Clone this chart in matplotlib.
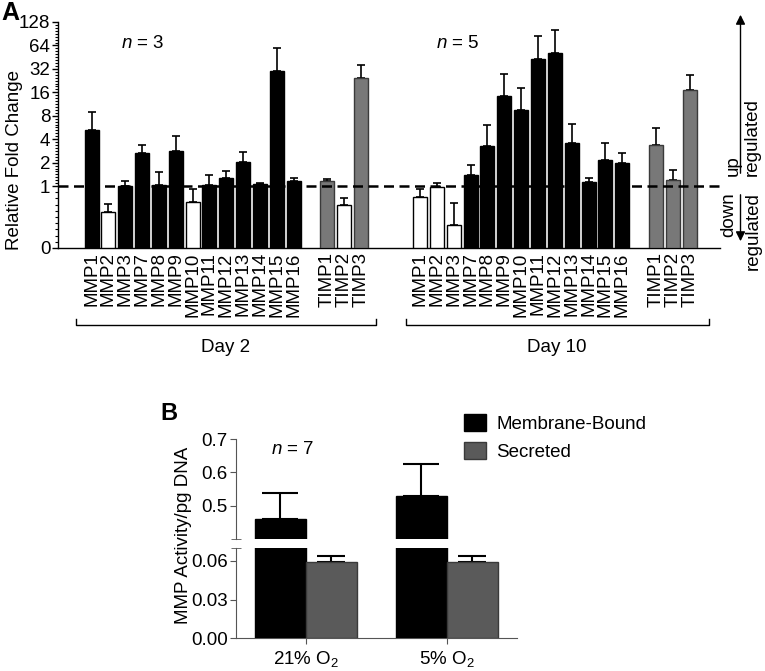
import numpy as np
import matplotlib
matplotlib.use("Agg")
import matplotlib.pyplot as plt
import matplotlib.transforms as mtransforms
from matplotlib.patches import Patch

plt.rcParams['font.family'] = ['Liberation Sans', 'DejaVu Sans']
plt.rcParams['mathtext.fontset'] = 'custom'
plt.rcParams['mathtext.rm'] = 'Liberation Sans'
plt.rcParams['mathtext.it'] = 'Liberation Sans:italic'
plt.rcParams['font.size'] = 13.5

# ---------------- Data: Panel A ----------------
mmp_genes = ["MMP1", "MMP2", "MMP3", "MMP7", "MMP8", "MMP9", "MMP10",
             "MMP11", "MMP12", "MMP13", "MMP14", "MMP15", "MMP16"]
timp_genes = ["TIMP1", "TIMP2", "TIMP3"]

day2_mmp = [5.2, 0.58, 1.0, 2.64, 1.03, 2.83, 0.75, 1.03, 1.28, 2.02, 1.05, 30.4, 1.16]
day2_mmp_sem = [3.7, 0.13, 0.16, 0.78, 0.5, 1.59, 0.2, 0.36, 0.28, 0.73, 0.03, 28.6, 0.11]
day2_timp = [1.16, 0.70, 24.5]
day2_timp_sem = [0.08, 0.105, 11.9]

day10_mmp = [0.83, 0.98, 0.37, 1.40, 3.25, 14.5, 9.47, 43.1, 51.6, 3.56, 1.12, 2.14, 1.98]
day10_mmp_sem = [0.13, 0.13, 0.36, 0.45, 2.82, 12.9, 8.93, 40.5, 48.4, 2.69, 0.16, 1.45, 0.72]
day10_timp = [3.42, 1.21, 17.0]
day10_timp_sem = [2.08, 0.42, 9.5]

yticks_A = [0, 1, 2, 4, 8, 16, 32, 64, 128]
day_labels = ["Day 2", "Day 10"]
n_labels = ["3", "5"]

# ---------------- Data: Panel B ----------------
conditions = ["21% O$_2$", "5% O$_2$"]
membrane = [0.459, 0.528]
membrane_sem = [0.078, 0.097]
secreted = [0.0595, 0.059]
secreted_sem = [0.0044, 0.005]
series_B = ["Membrane-Bound", "Secreted"]

W, H = 765, 671
fig = plt.figure(figsize=(W / 100, H / 100), dpi=100)


def fx(px):
    return px / W


def fy(py):
    return 1 - py / H


# ---------------- Panel A ----------------
K = 23.33 / 61.6


def fwd(y):
    y = np.asarray(y, dtype=float)
    return np.where(y <= 1, y, 1 + K * np.log2(np.maximum(y, 1)))


def inv(t):
    t = np.asarray(t, dtype=float)
    return np.where(t <= 1, t, 2 ** ((np.maximum(t, 1) - 1) / K))


axA = fig.add_axes([fx(58), fy(248), (720 - 58) / W, (248 - 22) / H])
axA.set_yscale('function', functions=(fwd, inv))

bw = 0.83
groups = [
    (np.arange(13), day2_mmp, day2_mmp_sem, 'mmp'),
    (14 + np.arange(3), day2_timp, day2_timp_sem, 'timp'),
    (19.5 + np.arange(13), day10_mmp, day10_mmp_sem, 'mmp'),
    (33.5 + np.arange(3), day10_timp, day10_timp_sem, 'timp'),
]
all_x, all_lab = [], []
for x, vals, sem, kind in groups:
    vals = np.array(vals)
    up_color = 'black' if kind == 'mmp' else '#787878'
    up_edge = 'black' if kind == 'mmp' else '#3a3a3a'
    colors = [up_color if v >= 1 else 'white' for v in vals]
    edges = [up_edge if v >= 1 else 'black' for v in vals]
    axA.bar(x, vals, width=bw, color=colors, edgecolor=edges, linewidth=1.0, zorder=3)
    axA.errorbar(x, vals, yerr=[np.zeros_like(vals), sem], fmt='none', ecolor='black',
                 elinewidth=1.2, capsize=3.2, capthick=1.2, zorder=2)
    all_x.extend(list(x))
    all_lab.extend(mmp_genes if kind == 'mmp' else timp_genes)

axA.axhline(1, color='black', lw=1.8, dashes=(4, 2.2), zorder=5)
axA.set_xlim(-1.99, 37.3)
axA.set_ylim(0, 128)
axA.set_yticks(yticks_A)
axA.set_yticklabels([str(t) for t in yticks_A])
minors = list(np.arange(0.1, 1.0, 0.1))
for k in range(7):
    minors += [2 ** (k + j / 8) for j in range(1, 8)]
axA.set_yticks(minors, minor=True)
axA.tick_params(axis='y', which='major', length=4, width=1, labelsize=13.5, pad=1.5)
axA.tick_params(axis='y', which='minor', length=2.5, width=0.8)
axA.set_xticks(all_x)
axA.set_xticklabels(all_lab, rotation=90, fontsize=13.5)
axA.tick_params(axis='x', length=0, pad=3)
for s in ['top', 'right']:
    axA.spines[s].set_visible(False)
for s in ['left', 'bottom']:
    axA.spines[s].set_linewidth(1.0)

blend = mtransforms.blended_transform_factory(axA.transData, axA.transAxes)
yb = (248 - 325) / 226
yt = (248 - 319) / 226
for (a, b), lab in zip([(-0.92, 16.87), (18.65, 36.62)], day_labels):
    axA.plot([a, a, b, b], [yt, yb, yb, yt], color='black', lw=1.0,
             transform=blend, clip_on=False)
    axA.text((a + b) / 2, (248 - 347) / 226, lab, transform=blend,
             ha='center', va='center', fontsize=13.5)

fig.text(fx(142.5), fy(43), r"$\it{n}$ = " + n_labels[0], ha='center', va='center', fontsize=13.5)
fig.text(fx(457.5), fy(43), r"$\it{n}$ = " + n_labels[1], ha='center', va='center', fontsize=13.5)
fig.text(fx(15), fy(160), "Relative Fold Change", rotation=90, ha='center', va='center',
         fontsize=13.5)
fig.text(fx(1), fy(13), "A", fontweight='bold', ha='left', va='center', fontsize=18)

# up / down arrows
fig.add_artist(matplotlib.patches.FancyArrowPatch(
    (fx(740.5), fy(176)), (fx(740.5), fy(12)), transform=fig.transFigure,
    arrowstyle='-|>', mutation_scale=14, color='black', lw=1.0))
fig.add_artist(matplotlib.patches.FancyArrowPatch(
    (fx(740.5), fy(192)), (fx(740.5), fy(244)), transform=fig.transFigure,
    arrowstyle='-|>', mutation_scale=14, color='black', lw=1.0))
fig.text(fx(733), fy(176), "up", rotation=90, ha='center', va='bottom', fontsize=13.5)
fig.text(fx(752), fy(176), "regulated", rotation=90, ha='center', va='bottom', fontsize=13.5)
fig.text(fx(729), fy(192), "down", rotation=90, ha='center', va='top', fontsize=13.5)
fig.text(fx(753), fy(192), "regulated", rotation=90, ha='center', va='top', fontsize=13.5)

# ---------------- Panel B ----------------
axis_grey = '#555555'
left_B, right_B = 236, 516.7
axBu = fig.add_axes([fx(left_B), fy(539), (right_B - left_B) / W, (539 - 439) / H])
axBl = fig.add_axes([fx(left_B), fy(638.3), (right_B - left_B) / W, (638.3 - 548) / H])

xB = np.arange(len(conditions))
bwB = 0.362
for ax in (axBu, axBl):
    ax.bar(xB - bwB / 2, membrane, width=bwB, color='black', edgecolor='black', lw=1, zorder=3)
    ax.bar(xB + bwB / 2, secreted, width=bwB, color='#5a5a5a', edgecolor='#3a3a3a', lw=1, zorder=3)
    ax.errorbar(xB - bwB / 2, membrane, yerr=[np.zeros(2), membrane_sem], fmt='none',
                ecolor='black', elinewidth=1.5, capsize=13, capthick=1.5, zorder=2)
    ax.errorbar(xB + bwB / 2, secreted, yerr=[np.zeros(2), secreted_sem], fmt='none',
                ecolor='black', elinewidth=1.5, capsize=10, capthick=1.5, zorder=2)
    ax.set_xlim(-0.494, 1.496)
    ax.spines['right'].set_visible(False)
    ax.spines['top'].set_visible(False)
    ax.spines['left'].set_color(axis_grey)
    ax.spines['bottom'].set_color(axis_grey)
    ax.tick_params(axis='y', colors=axis_grey, labelcolor='black', length=4, labelsize=13.5, pad=2)

axBu.set_ylim(0.4, 0.7)
axBu.set_yticks([0.5, 0.6, 0.7])
axBu.set_yticklabels(["0.5", "0.6", "0.7"])
axBu.set_yticks([0.4], minor=True)
axBu.tick_params(axis='y', which='minor', direction='inout', length=7, colors=axis_grey)
axBu.spines['bottom'].set_visible(False)
axBu.set_xticks([])

axBl.set_ylim(0, 0.07)
axBl.set_yticks([0.0, 0.03, 0.06])
axBl.set_yticklabels(["0.00", "0.03", "0.06"])
axBl.set_yticks([0.07], minor=True)
axBl.tick_params(axis='y', which='minor', direction='inout', length=7, colors=axis_grey)
axBl.set_xticks(xB)
axBl.set_xticklabels(conditions, fontsize=13.5)
axBl.tick_params(axis='x', colors=axis_grey, labelcolor='black', length=4, pad=4)

fig.text(fx(183), fy(535), "MMP Activity/pg DNA", rotation=90, ha='center', va='center',
         fontsize=13.5)
fig.text(fx(292.5), fy(450), r"$\it{n}$ = 7", ha='center', va='center', fontsize=13.5)
fig.text(fx(160), fy(414), "B", fontweight='bold', ha='left', va='center', fontsize=17)

handles = [Patch(facecolor='black', edgecolor='black', label=series_B[0]),
           Patch(facecolor='#5a5a5a', edgecolor='#3a3a3a', label=series_B[1])]
fig.legend(handles=handles, loc='upper left', bbox_to_anchor=(fx(460), fy(410)),
           frameon=False, fontsize=13.5, handlelength=1.2, handleheight=1.0,
           handletextpad=0.55, labelspacing=0.5, borderaxespad=0, borderpad=0.2)

fig.savefig("out.png", dpi=100)
